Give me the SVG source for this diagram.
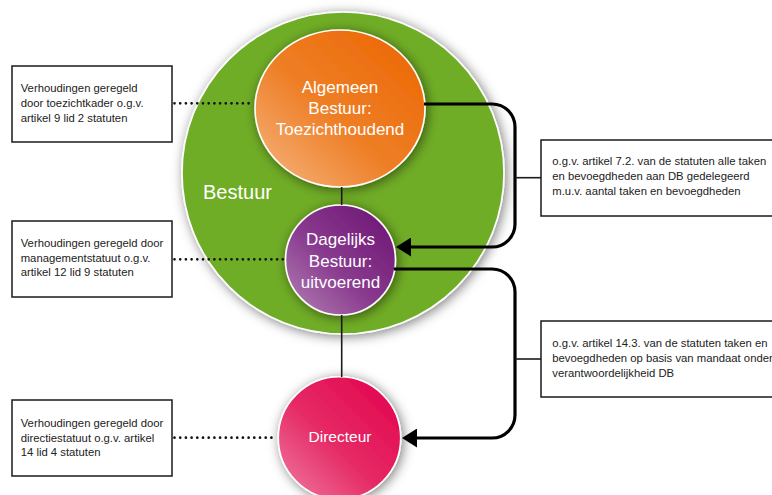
<svg xmlns="http://www.w3.org/2000/svg" width="772" height="495" viewBox="0 0 772 495">
  <defs>
    <filter id="shadow" x="-25%" y="-25%" width="150%" height="150%">
      <feDropShadow dx="2" dy="2" stdDeviation="6" flood-color="#000" flood-opacity="0.5"/>
    </filter>
    <linearGradient id="gOrange" x1="0" y1="1" x2="1" y2="0">
      <stop offset="0" stop-color="#f6b785"/>
      <stop offset="0.45" stop-color="#ee7f26"/>
      <stop offset="1" stop-color="#ec6400"/>
    </linearGradient>
    <linearGradient id="gPurple" x1="0" y1="1" x2="1" y2="0">
      <stop offset="0" stop-color="#b583b6"/>
      <stop offset="0.45" stop-color="#893a8e"/>
      <stop offset="1" stop-color="#6a1272"/>
    </linearGradient>
    <linearGradient id="gRed" x1="0" y1="1" x2="1" y2="0">
      <stop offset="0" stop-color="#f07ea3"/>
      <stop offset="0.45" stop-color="#e62a66"/>
      <stop offset="1" stop-color="#e2004c"/>
    </linearGradient>
    <marker id="arrow" viewBox="0 0 15 19" markerUnits="userSpaceOnUse" markerWidth="15" markerHeight="19" refX="11" refY="9.5" orient="auto">
      <path d="M0,0 L15,9.5 L0,19 z" fill="#000"/>
    </marker>
    <style>
      .box { fill: #fff; stroke: #1a1a1a; stroke-width: 1.5; }
      .btxt { font-family: "Liberation Sans", Arial, sans-serif; font-size: 11.3px; fill: #222; }
      .ntxt { font-family: "Liberation Sans", Arial, sans-serif; font-size: 17px; fill: #fff; text-anchor: middle; }
      .circ { stroke: #fff; stroke-width: 1.6; filter: url(#shadow); }
      .dots { fill: none; stroke: #111; stroke-width: 2.7; stroke-dasharray: 0 5.7; stroke-linecap: round; }
      .thin { fill: none; stroke: #1a1a1a; stroke-width: 1.6; }
      .bracket { fill: none; stroke: #000; stroke-width: 3.2; marker-end: url(#arrow); }
    </style>
  </defs>

  <rect width="772" height="495" fill="#fff"/>

  <g id="bestuur">
    <circle class="circ" cx="343" cy="173" r="161" fill="#70ad26"/>
    <text x="203" y="199" font-family="Liberation Sans, Arial, sans-serif" font-size="20" fill="#fff">Bestuur</text>
  </g>

  <g id="algemeen-bestuur">
    <ellipse class="circ" cx="340" cy="108.5" rx="85" ry="78.5" fill="url(#gOrange)"/>
    <text class="ntxt" x="340" y="92.7">Algemeen</text>
    <text class="ntxt" x="340" y="114">Bestuur:</text>
    <text class="ntxt" x="340" y="135.3">Toezichthoudend</text>
  </g>

  <g id="dagelijks-bestuur">
    <circle class="circ" cx="340.5" cy="260" r="55" fill="url(#gPurple)"/>
    <text class="ntxt" x="340.5" y="245">Dagelijks</text>
    <text class="ntxt" x="340.5" y="266.7">Bestuur:</text>
    <text class="ntxt" x="340.5" y="288">uitvoerend</text>
  </g>

  <g id="directeur">
    <circle class="circ" cx="339.5" cy="438" r="61.2" fill="url(#gRed)"/>
    <text class="ntxt" x="340" y="441.5" style="font-size:15.5px">Directeur</text>
  </g>

  <g id="note-toezicht">
    <rect class="box" x="12" y="66" width="160" height="76"/>
    <text class="btxt" x="20.7" y="91.7">Verhoudingen geregeld</text>
    <text class="btxt" x="20.7" y="106.7">door toezichtkader o.g.v.</text>
    <text class="btxt" x="20.7" y="121.5">artikel 9 lid 2 statuten</text>
  </g>

  <g id="note-management">
    <rect class="box" x="12" y="221" width="160" height="76"/>
    <text class="btxt" x="20.7" y="246.7">Verhoudingen geregeld door</text>
    <text class="btxt" x="20.7" y="261.7">managementstatuut o.g.v.</text>
    <text class="btxt" x="20.7" y="276.3">artikel 12 lid 9 statuten</text>
  </g>

  <g id="note-directie">
    <rect class="box" x="12" y="400" width="160" height="76"/>
    <text class="btxt" x="20.7" y="426.7">Verhoudingen geregeld door</text>
    <text class="btxt" x="20.7" y="441.7">directiestatuut o.g.v. artikel</text>
    <text class="btxt" x="20.7" y="456.3">14 lid 4 statuten</text>
  </g>

  <g id="note-delegatie">
    <rect class="box" x="541" y="140" width="245" height="76"/>
    <text class="btxt" x="552.3" y="165">o.g.v. artikel 7.2. van de statuten alle taken</text>
    <text class="btxt" x="552.3" y="180">en bevoegdheden aan DB gedelegeerd</text>
    <text class="btxt" x="552.3" y="195">m.u.v. aantal taken en bevoegdheden</text>
  </g>

  <g id="note-mandaat">
    <rect class="box" x="541" y="321" width="245" height="76"/>
    <text class="btxt" x="552.3" y="347.3">o.g.v. artikel 14.3. van de statuten taken en</text>
    <text class="btxt" x="552.3" y="362">bevoegdheden op basis van mandaat onder</text>
    <text class="btxt" x="552.3" y="376.7">verantwoordelijkheid DB</text>
  </g>

  <g id="connectors">
    <line class="thin" x1="341.7" y1="187" x2="341.7" y2="205"/>
    <line class="thin" x1="341.7" y1="315" x2="341.7" y2="377"/>
    <line class="dots" x1="174.5" y1="103.3" x2="253" y2="103.3"/>
    <line class="dots" x1="174.5" y1="259.3" x2="284" y2="259.3"/>
    <line class="dots" x1="174.5" y1="437.7" x2="277" y2="437.7"/>
    <path class="bracket" d="M424,104 H492 A23,23 0 0 1 515,127 V224 A23,23 0 0 1 492,247 H400"/>
    <path class="bracket" d="M394,269 H492 A23,23 0 0 1 515,292 V415 A23,23 0 0 1 492,438 H406"/>
    <line class="thin" x1="515" y1="177.7" x2="541" y2="177.7"/>
    <line class="thin" x1="515" y1="359" x2="541" y2="359"/>
  </g>
</svg>
